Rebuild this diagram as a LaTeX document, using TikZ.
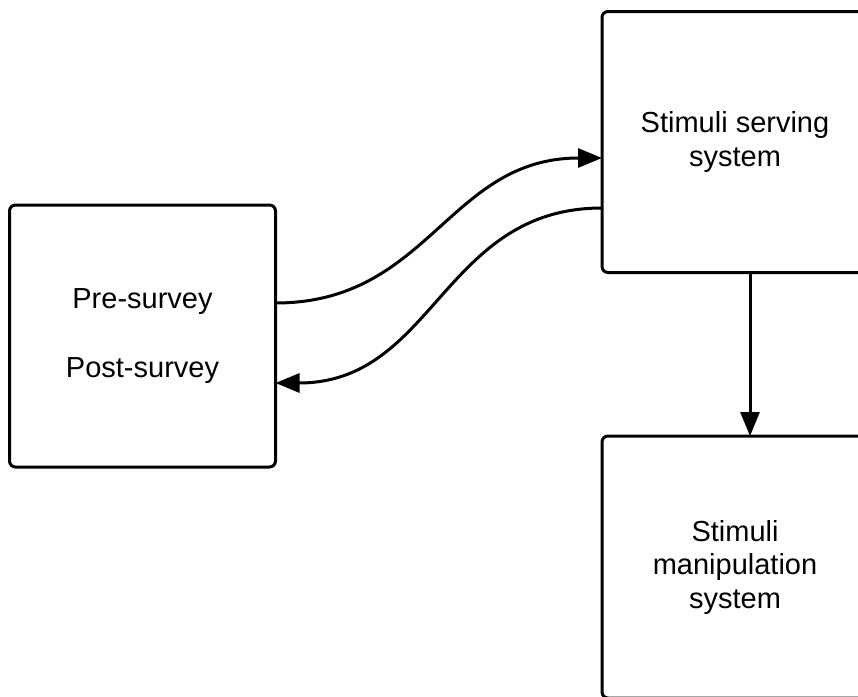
\documentclass[tikz,border=0pt]{standalone}
\usepackage{fontspec}
\setmainfont{Liberation Sans}
\usetikzlibrary{arrows.meta,positioning}

\begin{document}
\begin{tikzpicture}[x=1pt,y=-1pt,>={Triangle[length=24pt,width=19pt]},
  sysbox/.style={draw,line width=3pt,rounded corners=6pt,outer sep=0pt,
    minimum width=266pt,align=center,font=\fontsize{29}{33.5}\selectfont},
  link/.style={->,line width=3pt}]
  \useasboundingbox (0,0) rectangle (858,696);
  \clip (0,0) rectangle (858,696);
  % Boxes
  \node[sysbox,minimum height=262pt] (survey) at (142.5,336)
    {Pre-survey\\[36pt]Post-survey};
  \node[sysbox,minimum height=261pt] (serving) at (735,142)
    {Stimuli serving\\system};
  \node[sysbox,minimum height=262pt] (manip) at (735,567)
    {Stimuli\\manipulation\\system};
  % Arrows
  \draw[link] ([yshift=33pt]survey.east) to[out=0,in=180,looseness=1.1]
    ([yshift=-16pt]serving.west);
  \draw[link] ([yshift=-66pt]serving.west) to[out=180,in=0,looseness=1.1]
    ([yshift=-47pt]survey.east);
  \draw[link] ([xshift=15pt]serving.south) -- ([xshift=15pt]manip.north);
\end{tikzpicture}
\end{document}
